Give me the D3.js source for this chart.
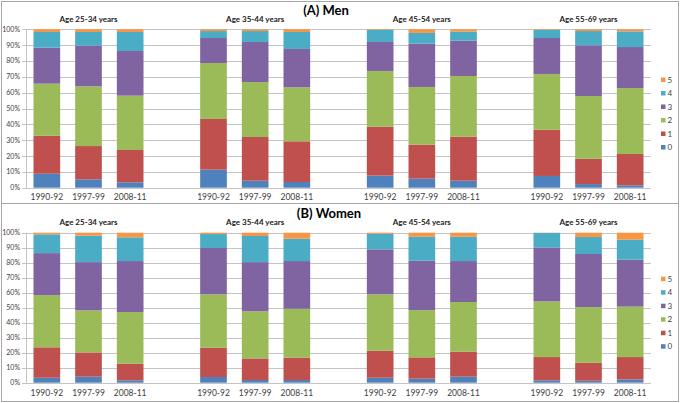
<!DOCTYPE html>
<html>
<head>
	<meta charset="UTF-8" />
	<title>Men and Women</title>
	<script src="https://d3js.org/d3.v7.min.js"></script>
	<style>
		body { margin: 0; background: #fff; }
		text { font-family: Lato, "Open Sans", sans-serif; }
	</style>
</head>
<body>
	<div id="main"></div>
	<script type="text/javascript">

		var ageGroups = ['Age 25-34 years', 'Age 35-44 years', 'Age 45-54 years', 'Age 55-69 years'];
		var periods = ['1990-92', '1997-99', '2008-11'];
		var levels = ['0', '1', '2', '3', '4', '5'];
		var colors = ['#4F81BD', '#C0504D', '#9BBB59', '#8064A2', '#4BACC6', '#F79646'];
		var yTicks = [0, 10, 20, 30, 40, 50, 60, 70, 80, 90, 100];

		// percent in each level 0..5, [age group][period][level]
		var menValues = [
			[[8.8, 24.0, 32.9, 22.7, 9.9, 1.7], [5.3, 21.0, 37.7, 25.7, 8.6, 1.7], [3.4, 20.4, 34.3, 28.2, 12.0, 1.7]],
			[[11.4, 32.0, 35.3, 15.8, 4.4, 1.1], [4.4, 27.6, 34.7, 25.3, 6.9, 1.1], [3.6, 25.7, 34.1, 24.2, 10.7, 1.7]],
			[[7.6, 30.9, 35.2, 18.3, 7.6, 0.4], [5.7, 21.5, 36.4, 27.3, 6.8, 2.3], [4.4, 27.8, 38.3, 22.3, 5.7, 1.5]],
			[[7.4, 29.2, 35.2, 22.7, 5.1, 0.4], [2.3, 16.0, 39.6, 32.0, 9.0, 1.1], [1.5, 19.8, 41.6, 25.9, 9.9, 1.3]]
		];
		var womenValues = [
			[[3.3, 20.3, 34.8, 28.0, 12.5, 1.1], [4.0, 16.2, 28.0, 32.2, 17.6, 2.0], [1.6, 11.1, 34.4, 34.0, 15.8, 3.1]],
			[[3.8, 19.5, 35.6, 30.9, 9.3, 0.9], [1.8, 14.4, 31.4, 32.8, 17.4, 2.2], [1.8, 14.9, 32.6, 31.8, 14.9, 4.0]],
			[[3.3, 18.0, 37.6, 30.0, 10.4, 0.7], [2.7, 14.2, 31.5, 32.9, 16.0, 2.7], [4.0, 16.7, 33.1, 27.3, 16.2, 2.7]],
			[[1.6, 15.5, 37.1, 36.0, 9.6, 0.2], [1.3, 12.0, 37.1, 35.4, 11.3, 2.9], [2.2, 14.9, 33.6, 31.3, 13.3, 4.7]]
		];

		var width = 680;
		var height = 403;

		var svg = d3.select('#main')
			.append('svg')
			.attr('width', width)
			.attr('height', height);

		// 15 slots: 3 bars per age group + an empty slot between groups
		var slots = [];
		ageGroups.forEach(function(g, gi) {
			periods.forEach(function(p, pi) { slots.push(gi + '|' + pi); });
			if (gi < ageGroups.length - 1) slots.push('gap' + gi);
		});

		var x = d3.scaleBand()
			.domain(slots)
			.range([26, 651])
			.paddingInner(0.36)
			.paddingOuter(0.18);

		var color = d3.scaleOrdinal().domain(levels).range(colors);

		var panels = [
			{ title: '(A) Men', values: menValues, top: 1, bottom: 203, y0: 187.7, y1: 29.3, titleY: 15, ageY: 22, tickY: 200, titleX: 326 },
			{ title: '(B) Women', values: womenValues, top: 203, bottom: 401, y0: 382.7, y1: 232.7, titleY: 218, ageY: 225, tickY: 396, titleX: 329 }
		];

		panels.forEach(function(panel) {
			var g = svg.append('g');

			g.append('rect')
				.attr('x', 1.5).attr('y', panel.top + 0.5)
				.attr('width', 677).attr('height', panel.bottom - panel.top)
				.attr('fill', 'none')
				.attr('stroke', '#a6a6a6');

			var y = d3.scaleLinear().domain([0, 100]).range([panel.y0, panel.y1]);

			// gridlines
			g.append('g')
				.selectAll('line')
				.data(yTicks)
				.enter()
				.append('line')
				.attr('x1', 22).attr('x2', 651)
				.attr('y1', function(d) { return Math.round(y(d)) + 0.5; })
				.attr('y2', function(d) { return Math.round(y(d)) + 0.5; })
				.attr('stroke', '#c4c4c4');

			g.append('g')
				.selectAll('text')
				.data(yTicks)
				.enter()
				.append('text')
				.attr('x', 20)
				.attr('y', function(d) { return y(d) + 2.5; })
				.attr('text-anchor', 'end')
				.attr('font-size', 7)
				.attr('fill', '#404040')
				.text(function(d) { return d + '%'; });

			g.append('line')
				.attr('x1', 26.5).attr('x2', 26.5)
				.attr('y1', panel.y0).attr('y2', panel.y1)
				.attr('stroke', '#c4c4c4');

			// stacked bars
			var bars = [];
			panel.values.forEach(function(group, gi) {
				group.forEach(function(vals, pi) {
					var cum = 0;
					vals.forEach(function(v, li) {
						bars.push({ slot: gi + '|' + pi, level: levels[li], lo: cum, hi: cum + v });
						cum += v;
					});
				});
			});

			g.append('g')
				.selectAll('rect')
				.data(bars)
				.enter()
				.append('rect')
				.attr('x', function(d) { return x(d.slot); })
				.attr('width', x.bandwidth())
				.attr('y', function(d) { return y(Math.min(d.hi, 100)); })
				.attr('height', function(d) { return y(d.lo) - y(Math.min(d.hi, 100)); })
				.attr('fill', function(d) { return color(d.level); });

			// period labels
			g.append('g')
				.selectAll('text')
				.data(slots.filter(function(s) { return s.indexOf('gap') < 0; }))
				.enter()
				.append('text')
				.attr('x', function(d) { return x(d) + x.bandwidth() / 2; })
				.attr('y', panel.tickY)
				.attr('text-anchor', 'middle')
				.attr('font-size', 8.5)
				.attr('fill', '#404040')
				.text(function(d) { return periods[+d.split('|')[1]]; });

			// age group labels
			g.append('g')
				.selectAll('text')
				.data(ageGroups)
				.enter()
				.append('text')
				.attr('x', function(d, i) { return x(i + '|1') + x.bandwidth() / 2; })
				.attr('y', panel.ageY)
				.attr('text-anchor', 'middle')
				.attr('font-size', 8)
				.attr('font-weight', 'bold')
				.attr('fill', '#222')
				.text(function(d) { return d; });

			g.append('text')
				.attr('x', panel.titleX)
				.attr('y', panel.titleY)
				.attr('text-anchor', 'middle')
				.attr('font-size', 13)
				.attr('font-weight', 'bold')
				.attr('fill', '#000')
				.text(panel.title);

			// legend, 5 on top
			var legendTop = (panel.y0 + panel.y1) / 2 - 28.5;
			var leg = g.append('g')
				.selectAll('g')
				.data(levels.slice().reverse())
				.enter()
				.append('g')
				.attr('transform', function(d, i) { return 'translate(661,' + (legendTop + i * 13.5) + ')'; });
			leg.append('rect')
				.attr('x', 0).attr('y', -2.5)
				.attr('width', 4.5).attr('height', 4.5)
				.attr('fill', function(d) { return color(d); });
			leg.append('text')
				.attr('x', 6.5).attr('y', 2.5)
				.attr('font-size', 8)
				.attr('fill', '#404040')
				.text(function(d) { return d; });
		});
	</script>
</body>
</html>
